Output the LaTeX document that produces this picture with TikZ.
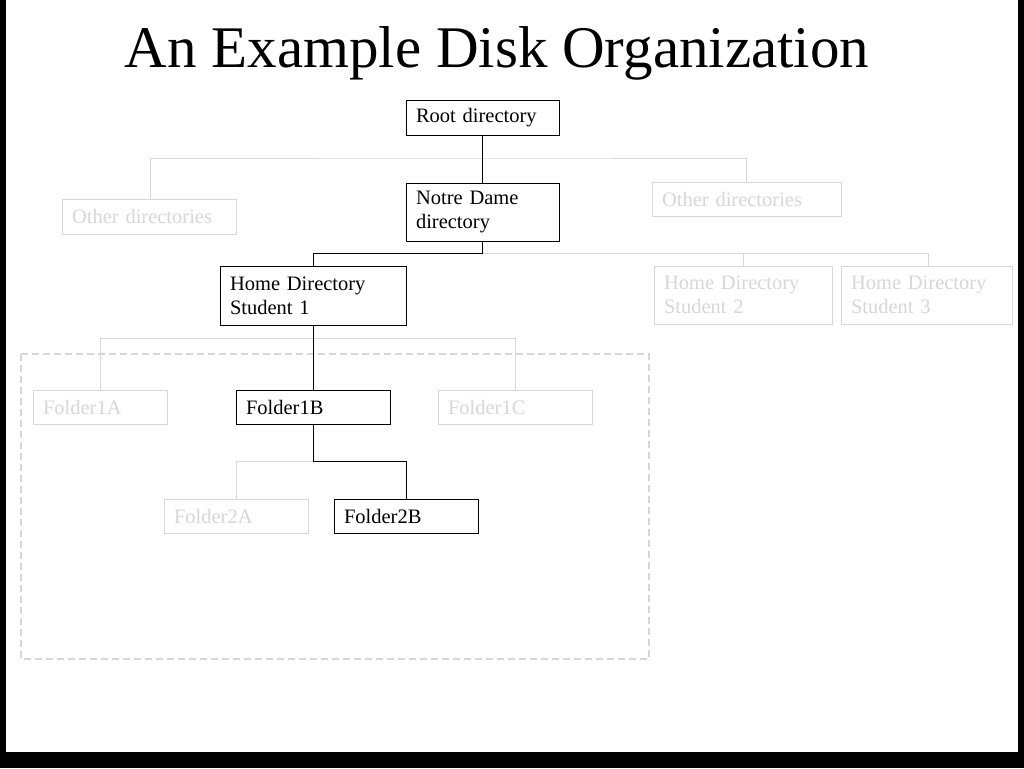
\documentclass[tikz,border=0pt]{standalone}
\usepackage{fontspec}
\setmainfont{Liberation Serif}
\usetikzlibrary{positioning}
\definecolor{faint}{RGB}{215,215,215}
\tikzset{x=1pt, y=-1pt, font=\fontsize{20.5}{24}\selectfont}
\tikzstyle{dir} = [draw, fill=white, rectangle, anchor=north west, align=left, inner sep=0pt, outer sep=0pt]
\tikzstyle{faintdir} = [dir, draw=faint, text=faint]
\tikzstyle{link} = [draw, line width=0.9pt]
\tikzstyle{faintlink} = [draw=faint, line width=0.9pt]

\begin{document}
\begin{tikzpicture}
    \fill [black] (0,0) rectangle (1024,768);
    \fill [white] (6,0) rectangle (1018,752);
    \node (title) at (497,53) {\fontsize{59}{66}\selectfont An Example Disk Organization};

    \draw [faint, dash pattern=on 7pt off 4pt, line width=1.3pt] (21,354) rectangle (649,659);

    % gray branches
    \draw [faintlink] (150,199) |- (483,158) -| (746,182);
    \draw [faintlink] (483,253) -| (928,266);
    \draw [faintlink] (743,253) -- (743,266);
    \draw [faintlink] (100,390) |- (515,338) -- (515,390);
    \draw [faintlink] (313,461) -| (236,499);

    \node [dir, minimum width=153, minimum height=35, text width=133] (root) at (406,100) {Root directory};
    \node [dir, minimum width=153, minimum height=58, text width=133] (nd) at (406,183) {Notre Dame\\directory};
    \node [faintdir, minimum width=174, minimum height=35, text width=154] (other_l) at (62,199) {Other directories};
    \node [faintdir, minimum width=189, minimum height=34, text width=169] (other_r) at (652,182) {Other directories};
    \node [dir, minimum width=186, minimum height=59, text width=166] (home1) at (220,266) {Home Directory\\Student 1};
    \node [faintdir, minimum width=178, minimum height=58, text width=158] (home2) at (654,266) {Home Directory\\Student 2};
    \node [faintdir, minimum width=171, minimum height=58, text width=151] (home3) at (841,266) {Home Directory\\Student 3};
    \node [faintdir, minimum width=134, minimum height=34, text width=114] (f1a) at (33,390) {Folder1A};
    \node [dir, minimum width=154, minimum height=34, text width=134] (f1b) at (236,390) {Folder1B};
    \node [faintdir, minimum width=154, minimum height=34, text width=134] (f1c) at (438,390) {Folder1C};
    \node [faintdir, minimum width=144, minimum height=34, text width=124] (f2a) at (164,499) {Folder2A};
    \node [dir, minimum width=144, minimum height=34, text width=124] (f2b) at (334,499) {Folder2B};

    % black path
    \draw [link] (root.south) -- (nd.north);
    \draw [link] (nd.south) |- (313,253) -- (home1.north);
    \draw [link] (home1.south) -- (f1b.north);
    \draw [link] (f1b.south) |- (406,461) -- (f2b.north);
\end{tikzpicture}
\end{document}
